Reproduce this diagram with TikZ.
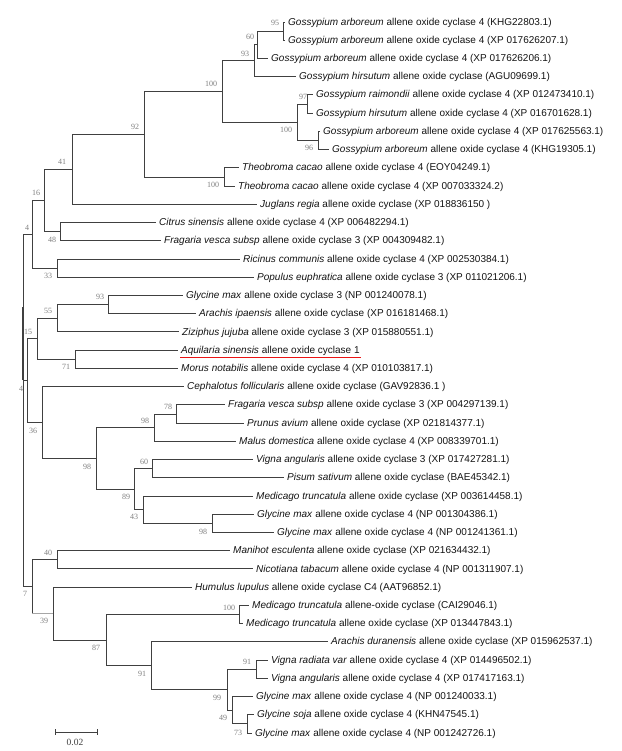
\documentclass[tikz,border=0pt]{standalone}
\usepackage{fontspec}
\setmainfont{Liberation Sans}
\newfontfamily\labfont{Liberation Serif}
\definecolor{hlred}{RGB}{235,20,20}
\begin{document}
\begin{tikzpicture}[x=1pt,y=-1pt,
  br/.style={draw=black!75,line width=0.9pt},
  brl/.style={draw=black!35,line width=0.9pt},
  hl/.style={color=hlred,line width=1.6pt},
  leaf/.style={anchor=west,inner xsep=3pt,inner ysep=0pt,text height=8.2pt,text depth=2pt,
    font=\fontsize{10}{12}\selectfont,text=black!92},
  bs/.style={inner sep=0pt,font=\labfont\fontsize{8}{9}\selectfont,text=black!50},
  sc/.style={inner sep=0pt,font=\labfont\fontsize{9.5}{11}\selectfont,text=black!75}]
\fill[white] (0,0) rectangle (621,751);
\useasboundingbox (0,0) rectangle (621,751);
% leaves
\node[leaf] (L1) at (285,22) {\textit{Gossypium arboreum} allene oxide cyclase 4 (KHG22803.1)};
\node[leaf] (L2) at (285,40.2) {\textit{Gossypium arboreum} allene oxide cyclase 4 (XP 017626207.1)};
\node[leaf] (L3) at (268,58.5) {\textit{Gossypium arboreum} allene oxide cyclase 4 (XP 017626206.1)};
\node[leaf] (L4) at (296,76.7) {\textit{Gossypium hirsutum} allene oxide cyclase (AGU09699.1)};
\node[leaf] (L5) at (313,94.9) {\textit{Gossypium raimondii} allene oxide cyclase 4 (XP 012473410.1)};
\node[leaf] (L6) at (313,113.2) {\textit{Gossypium hirsutum} allene oxide cyclase 4 (XP 016701628.1)};
\node[leaf] (L7) at (320,131.4) {\textit{Gossypium arboreum} allene oxide cyclase 4 (XP 017625563.1)};
\node[leaf] (L8) at (329,149.6) {\textit{Gossypium arboreum} allene oxide cyclase 4 (KHG19305.1)};
\node[leaf] (L9) at (239,167.8) {\textit{Theobroma cacao} allene oxide cyclase 4 (EOY04249.1)};
\node[leaf] (L10) at (235,186.1) {\textit{Theobroma cacao} allene oxide cyclase 4 (XP 007033324.2)};
\node[leaf] (L11) at (257,204.3) {\textit{Juglans regia} allene oxide cyclase (XP 018836150 )};
\node[leaf] (L12) at (156,222.5) {\textit{Citrus sinensis} allene oxide cyclase 4 (XP 006482294.1)};
\node[leaf] (L13) at (161,240.8) {\textit{Fragaria vesca subsp} allene oxide cyclase 3 (XP 004309482.1)};
\node[leaf] (L14) at (240,259) {\textit{Ricinus communis} allene oxide cyclase 4 (XP 002530384.1)};
\node[leaf] (L15) at (254,277.2) {\textit{Populus euphratica} allene oxide cyclase 3 (XP 011021206.1)};
\node[leaf] (L16) at (183,295.5) {\textit{Glycine max} allene oxide cyclase 3 (NP 001240078.1)};
\node[leaf] (L17) at (196,313.7) {\textit{Arachis ipaensis} allene oxide cyclase (XP 016181468.1)};
\node[leaf] (L18) at (179,331.9) {\textit{Ziziphus jujuba} allene oxide cyclase 3 (XP 015880551.1)};
\node[leaf] (L19) at (178,350.1) {\textit{Aquilaria sinensis} allene oxide cyclase 1};
\node[leaf] (L20) at (178,368.4) {\textit{Morus notabilis} allene oxide cyclase 4 (XP 010103817.1)};
\node[leaf] (L21) at (184,386.6) {\textit{Cephalotus follicularis} allene oxide cyclase (GAV92836.1 )};
\node[leaf] (L22) at (225,404.8) {\textit{Fragaria vesca subsp} allene oxide cyclase 3 (XP 004297139.1)};
\node[leaf] (L23) at (244,423.1) {\textit{Prunus avium} allene oxide cyclase (XP 021814377.1)};
\node[leaf] (L24) at (236,441.3) {\textit{Malus domestica} allene oxide cyclase 4 (XP 008339701.1)};
\node[leaf] (L25) at (253,459.5) {\textit{Vigna angularis} allene oxide cyclase 3 (XP 017427281.1)};
\node[leaf] (L26) at (284,477.8) {\textit{Pisum sativum} allene oxide cyclase (BAE45342.1)};
\node[leaf] (L27) at (253,496) {\textit{Medicago truncatula} allene oxide cyclase (XP 003614458.1)};
\node[leaf] (L28) at (254,514.2) {\textit{Glycine max} allene oxide cyclase 4 (NP 001304386.1)};
\node[leaf] (L29) at (274,532.5) {\textit{Glycine max} allene oxide cyclase 4 (NP 001241361.1)};
\node[leaf] (L30) at (230,550.7) {\textit{Manihot esculenta} allene oxide cyclase (XP 021634432.1)};
\node[leaf] (L31) at (253,568.9) {\textit{Nicotiana tabacum} allene oxide cyclase 4 (NP 001311907.1)};
\node[leaf] (L32) at (192,587.1) {\textit{Humulus lupulus} allene oxide cyclase C4 (AAT96852.1)};
\node[leaf] (L33) at (249,605.4) {\textit{Medicago truncatula} allene-oxide cyclase (CAI29046.1)};
\node[leaf] (L34) at (243,623.6) {\textit{Medicago truncatula} allene oxide cyclase (XP 013447843.1)};
\node[leaf] (L35) at (328,641.8) {\textit{Arachis duranensis} allene oxide cyclase (XP 015962537.1)};
\node[leaf] (L36) at (268,660.1) {\textit{Vigna radiata var} allene oxide cyclase 4 (XP 014496502.1)};
\node[leaf] (L37) at (268,678.3) {\textit{Vigna angularis} allene oxide cyclase 4 (XP 017417163.1)};
\node[leaf] (L38) at (253,696.5) {\textit{Glycine max} allene oxide cyclase 4 (NP 001240033.1)};
\node[leaf] (L39) at (254,714.8) {\textit{Glycine soja} allene oxide cyclase 4 (KHN47545.1)};
\node[leaf] (L40) at (252,733) {\textit{Glycine max} allene oxide cyclase 4 (NP 001242726.1)};
% internal nodes
\coordinate (A95) at (283,31.1);
\coordinate (A60) at (257,44.8);
\coordinate (A93) at (254,60.8);
\coordinate (A97) at (307,104);
\coordinate (A96) at (318,140.5);
\coordinate (A100i) at (297,122.3);
\coordinate (A100) at (222,91.5);
\coordinate (T100) at (224,177);
\coordinate (N92) at (144,134.2);
\coordinate (N41) at (72,169.3);
\coordinate (N48) at (60,231.7);
\coordinate (N16) at (44,200.5);
\coordinate (N33) at (57,268.1);
\coordinate (N4) at (32,234.3);
\coordinate (N93b) at (108,304.6);
\coordinate (N55) at (57,318.25);
\coordinate (N71) at (75,359.25);
\coordinate (N15) at (37,338.75);
\coordinate (N78) at (176,414);
\coordinate (N98a) at (154,427.6);
\coordinate (N60b) at (152,468.7);
\coordinate (N98c) at (212,523.4);
\coordinate (N43) at (143,509.7);
\coordinate (N89) at (134,489.2);
\coordinate (N98b) at (96,458.4);
\coordinate (N36) at (42,422.5);
\coordinate (N4b) at (27,380.6);
\coordinate (N40) at (57,559.8);
\coordinate (N100m) at (239,614.5);
\coordinate (N91a) at (256,669.2);
\coordinate (N73) at (247,723.9);
\coordinate (N49) at (232,710.2);
\coordinate (N99) at (227,689.7);
\coordinate (N91b) at (151,665.8);
\coordinate (N87) at (106,640.1);
\coordinate (N39) at (53,613.6);
\coordinate (N7) at (32,586.7);
\coordinate (R) at (23,380.6);
\coordinate (Rk1) at (23,307);
\coordinate (Rk2) at (23,380);
% branches
\draw[br] (A95) |- (L1.west) (A95) |- (L2.west);
\draw[br] (A60) |- (A95) (A60) |- (L3.west);
\draw[br] (A93) |- (A60) (A93) |- (L4.west);
\draw[br] (A97) |- (L5.west) (A97) |- (L6.west);
\draw[br] (A96) |- (L7.west) (A96) |- (L8.west);
\draw[br] (A100i) |- (A97) (A100i) |- (A96);
\draw[br] (A100) |- (A93) (A100) |- (A100i);
\draw[br] (T100) |- (L9.west) (T100) |- (L10.west);
\draw[br] (N92) |- (A100) (N92) |- (T100);
\draw[br] (N41) |- (N92) (N41) |- (L11.west);
\draw[br] (N48) |- (L12.west) (N48) |- (L13.west);
\draw[br] (N16) |- (N41) (N16) |- (N48);
\draw[br] (N33) |- (L14.west) (N33) |- (L15.west);
\draw[br] (N4) |- (N16) (N4) |- (N33);
\draw[br] (N93b) |- (L16.west) (N93b) |- (L17.west);
\draw[br] (N55) |- (N93b) (N55) |- (L18.west);
\draw[br] (N71) |- (L19.west) (N71) |- (L20.west);
\draw[br] (N15) |- (N55) (N15) |- (N71);
\draw[br] (N78) |- (L22.west) (N78) |- (L23.west);
\draw[br] (N98a) |- (N78) (N98a) |- (L24.west);
\draw[br] (N60b) |- (L25.west) (N60b) |- (L26.west);
\draw[br] (N98c) |- (L28.west) (N98c) |- (L29.west);
\draw[br] (N43) |- (L27.west) (N43) |- (N98c);
\draw[br] (N89) |- (N60b) (N89) |- (N43);
\draw[br] (N98b) |- (N98a) (N98b) |- (N89);
\draw[br] (N36) |- (L21.west) (N36) |- (N98b);
\draw[br] (N4b) |- (N15) (N4b) |- (N36);
\draw[br] (N40) |- (L30.west) (N40) |- (L31.west);
\draw[br] (N100m) |- (L33.west) (N100m) |- (L34.west);
\draw[br] (N91a) |- (L36.west) (N91a) |- (L37.west);
\draw[br] (N73) |- (L39.west) (N73) |- (L40.west);
\draw[br] (N49) |- (L38.west) (N49) |- (N73);
\draw[br] (N99) |- (N91a) (N99) |- (N49);
\draw[br] (N91b) |- (L35.west) (N91b) |- (N99);
\draw[br] (N87) |- (N100m) (N87) |- (N91b);
\draw[br] (N39) |- (L32.west) (N39) |- (N87);
\draw[br] (N7) |- (N40);
\draw[br] (N7) -- (N7 |- N39);
\draw[brl] (N7 |- N39) -- (N39);
\draw[br] (R) |- (N4) (R) |- (N4b) (R) |- (N7);
\draw[draw=black!75,line width=1.8pt] (Rk1) -- (Rk2);
% highlight
\path[draw=hlred,line width=1.6pt] ([xshift=2pt,yshift=-2.2pt]L19.south west) -- ([xshift=-2pt,yshift=-2.2pt]L19.south east);
% bootstrap values
\node[bs] (b1) at (275,23) {95};
\node[bs] (b2) at (250,37) {60};
\node[bs] (b3) at (245,54) {93};
\node[bs] (b4) at (211,84) {100};
\node[bs] (b5) at (303,97) {97};
\node[bs] (b6) at (286,130) {100};
\node[bs] (b7) at (309,148) {96};
\node[bs] (b8) at (135,127) {92};
\node[bs] (b9) at (62,162) {41};
\node[bs] (b10) at (36,193) {16};
\node[bs] (b11) at (213,185) {100};
\node[bs] (b12) at (27,228) {4};
\node[bs] (b13) at (52,240) {48};
\node[bs] (b14) at (48,276) {33};
\node[bs] (b15) at (100,297) {93};
\node[bs] (b16) at (48,311) {55};
\node[bs] (b17) at (28,332) {15};
\node[bs] (b18) at (66,367) {71};
\node[bs] (b19) at (21,389) {4};
\node[bs] (b20) at (33,431) {36};
\node[bs] (b21) at (168,407) {78};
\node[bs] (b22) at (145,421) {98};
\node[bs] (b23) at (87,467) {98};
\node[bs] (b24) at (144,462) {60};
\node[bs] (b25) at (126,497) {89};
\node[bs] (b26) at (134,517) {43};
\node[bs] (b27) at (203,532) {98};
\node[bs] (b28) at (48,553) {40};
\node[bs] (b29) at (25,594) {7};
\node[bs] (b30) at (44,621) {39};
\node[bs] (b31) at (229,608) {100};
\node[bs] (b32) at (96,648) {87};
\node[bs] (b33) at (142,674) {91};
\node[bs] (b34) at (247,662) {91};
\node[bs] (b35) at (217,698) {99};
\node[bs] (b36) at (223,718) {49};
\node[bs] (b37) at (238,733) {73};
% scale bar
\coordinate (S1) at (55,732);
\coordinate (S2) at (97,732);
\draw[br] (S1) -- (S2);
\draw[br] ([yshift=3pt]S1) -- ([yshift=-3pt]S1);
\draw[br] ([yshift=3pt]S2) -- ([yshift=-3pt]S2);
\node[sc] (sl) at (75,742) {0.02};
\end{tikzpicture}
\end{document}
